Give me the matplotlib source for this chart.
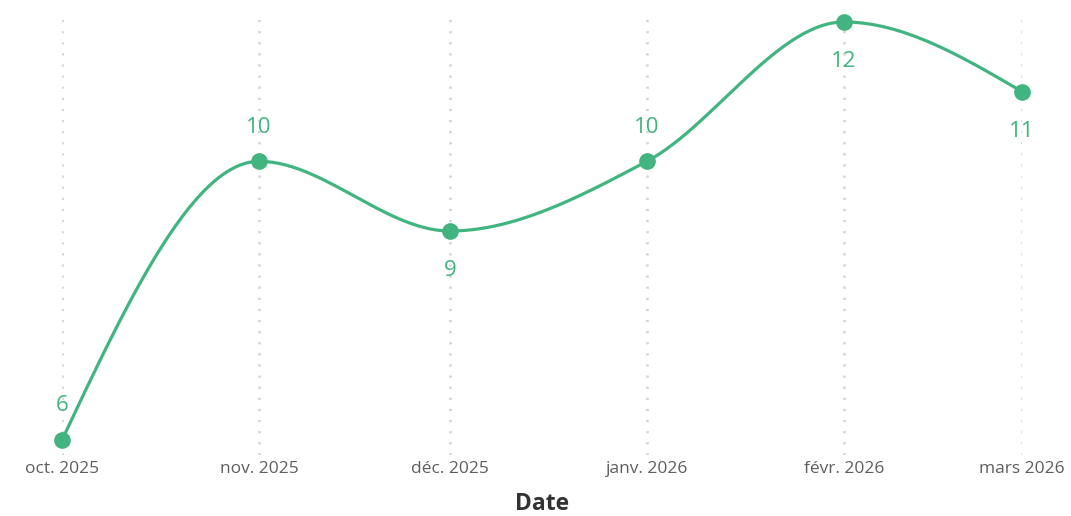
import numpy as np
import matplotlib
matplotlib.use("Agg")
import matplotlib.pyplot as plt
import matplotlib.dates as mdates
from datetime import date

months = [date(2025, 10, 1), date(2025, 11, 1), date(2025, 12, 1),
          date(2026, 1, 1), date(2026, 2, 1), date(2026, 3, 1)]
month_labels = ["oct. 2025", "nov. 2025", "déc. 2025",
                "janv. 2026", "févr. 2026", "mars 2026"]
values = [6, 10, 9, 10, 12, 11]
label_above = [True, True, False, True, False, False]

green = "#41B47F"
plt.rcParams["font.family"] = ["Open Sans", "DejaVu Sans"]


def monotone_x(x, y, n=60):
    # cubic hermite with d3-style monotone slopes
    x = np.asarray(x, float)
    y = np.asarray(y, float)
    h = np.diff(x)
    s = np.diff(y) / h
    t = np.zeros(len(x))
    for i in range(1, len(x) - 1):
        p = (s[i - 1] * h[i] + s[i] * h[i - 1]) / (h[i - 1] + h[i])
        t[i] = (np.sign(s[i - 1]) + np.sign(s[i])) * min(abs(s[i - 1]), abs(s[i]), 0.5 * abs(p))
    t[0] = (3 * s[0] - t[1]) / 2
    t[-1] = (3 * s[-1] - t[-2]) / 2
    xs, ys = [], []
    for i in range(len(x) - 1):
        u = np.linspace(0, 1, n)
        h00 = 2 * u**3 - 3 * u**2 + 1
        h10 = u**3 - 2 * u**2 + u
        h01 = -2 * u**3 + 3 * u**2
        h11 = u**3 - u**2
        xs.append(x[i] + u * h[i])
        ys.append(h00 * y[i] + h10 * h[i] * t[i] + h01 * y[i + 1] + h11 * h[i] * t[i + 1])
    return np.concatenate(xs), np.concatenate(ys)


xn = mdates.date2num(months)
fig = plt.figure(figsize=(10.71, 5.16), dpi=100)
ax = fig.add_axes([62 / 1071, 61 / 516, (1022 - 62) / 1071, (498 - 61) / 516])

sx, sy = monotone_x(xn, values)
ax.plot(sx, sy, color=green, lw=2.3, solid_capstyle="round", zorder=3, clip_on=False)
ax.plot(xn, values, "o", color=green, ms=11, zorder=4, clip_on=False)

for xv, v, up in zip(xn, values, label_above):
    ax.annotate(str(v), (xv, v), xytext=(0, 17 if up else -21), textcoords="offset points",
                ha="center", va="bottom" if up else "top", color=green, fontsize=16)

ax.set_xlim(xn[0], xn[-1])
ax.set_ylim(5.785, 12.057)
ax.set_xticks(xn)
ax.set_xticklabels(month_labels, color="#605E5C", fontsize=12.5)
ax.set_yticks([])
ax.tick_params(axis="x", length=0, pad=4)
ax.grid(axis="x", color="#D5D5D5", linestyle=(0, (0.8, 3.2)), lw=2)
for sp in ax.spines.values():
    sp.set_visible(False)
ax.set_xlabel("Date", fontsize=16.5, fontweight="bold", color="#333333", labelpad=11)

fig.savefig("out.png", dpi=100)
